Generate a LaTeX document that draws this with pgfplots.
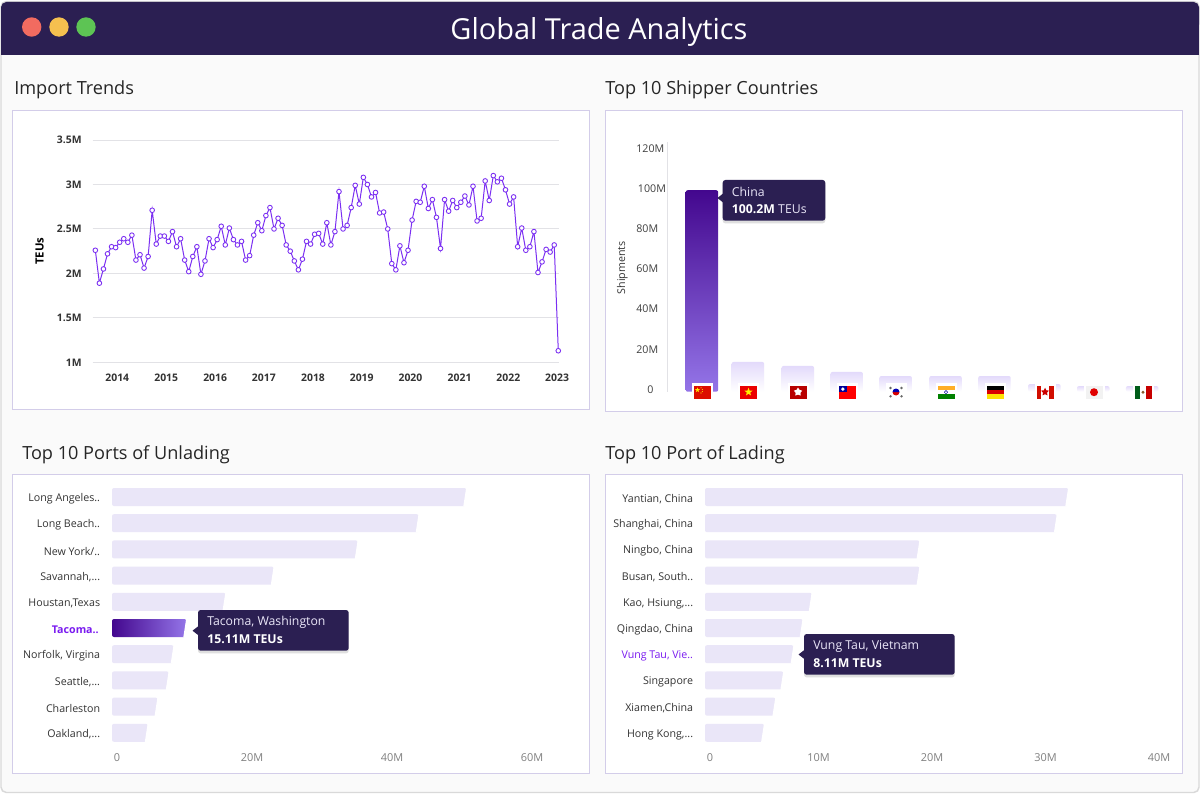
\documentclass[border=0pt]{standalone}
\usepackage{fontspec}
\usepackage{pgfplots}
\pgfplotsset{compat=1.18}
\usetikzlibrary{shadows,shapes.geometric,calc}
\setmainfont{Open Sans}
\definecolor{hdr}{HTML}{2B1F52}
\definecolor{pageb}{HTML}{FAFAFA}
\definecolor{panelb}{HTML}{D3CDE9}
\definecolor{lilac}{HTML}{EAE6F8}
\definecolor{lilactop}{HTML}{E3DAFB}
\definecolor{purp}{HTML}{7B2FF2}
\definecolor{hl}{HTML}{7A1BF0}
\definecolor{deep}{HTML}{43078E}
\definecolor{soft}{HTML}{9475E8}
\definecolor{txt}{HTML}{333333}
\definecolor{gridc}{HTML}{E2E2E6}
\definecolor{cr}{HTML}{F26B60}
\definecolor{cy}{HTML}{F5C04F}
\definecolor{cg}{HTML}{5DC454}
\newcommand{\sz}[1]{\fontsize{#1}{#1}\selectfont}
\newcommand{\ddd}{.{}.{}.}
\pgfplotsset{
  base/.style={scale only axis, clip=false, axis line style={draw=none}, major tick style={draw=none}, minor tick style={draw=none}, major tick length=0pt},
  hbarax/.style={base, xbar, y dir=reverse, ymin=-0.5, ymax=9.5, ytick={0,1,2,3,4,5,6,7,8,9}, height=196.5pt,
    yticklabel style={font=\sz{8}, text=txt, anchor=east}, xticklabel style={font=\sz{8.2}, text=black!50, yshift=-2.5pt}},
  slant/.style={bar width=13.5pt, bar shift=0pt, draw=none, rounded corners=1.5pt, forget plot, #1},
  vbarst/.style={bar width=24.4pt, bar shift=0pt, draw=none, rounded corners=1.5pt, forget plot, top color=lilactop, bottom color=white},
}
\newcommand{\cut}[2]{\fill[white] (axis cs:#1,#2-0.36) -- ([xshift=1.5pt]axis cs:#1,#2-0.36) -- ([xshift=1.5pt]axis cs:#1,#2+0.36) -- ([xshift=-2.2pt]axis cs:#1,#2+0.36) -- cycle;}
\newcommand{\flagat}[2]{\begin{scope}[shift={(#1,392)}]\fill[white](-10.5,-9)rectangle(10.5,7);#2\end{scope}}
\newcommand{\tip}[8]{%
  \fill[hdr,rounded corners=2,drop shadow={opacity=0.25,shadow xshift=0pt,shadow yshift=-2pt}](#1,#2)rectangle(#3,#4);
  \fill[hdr]({#1+1},{#6-5})--(#5,#6)--({#1+1},{#6+5})--cycle;
  \node[anchor=west,inner sep=0pt,text=lilac,font=\sz{9.2}] at ({#1+9},{#2+12}) {#7};
  \node[anchor=west,inner sep=0pt,text=white,font=\sz{9.2}] at ({#1+9},{#2+29.5}) {#8};}
\begin{document}
\begin{tikzpicture}
\path[use as bounding box] (0,0) rectangle (900pt,595.5pt);
\begin{scope}[x=0.75pt,y=-0.75pt,shift={(0,-794)}]
\fill[white](0,0)rectangle(1200,794);
\fill[pageb,draw=black!15,line width=1.1pt,rounded corners=4](1,1.5)rectangle(1199,792.5);
\fill[hdr,rounded corners=4](1,2)rectangle(1199,30);
\fill[hdr](1,20)rectangle(1199,55);
\fill[cr](31.7,27)circle(9.7);
\fill[cy](59,27)circle(9.7);
\fill[cg](86,27)circle(9.7);
\node[text=white,font=\sz{21.7}] at (599,32) {Global Trade Analytics};
\foreach \x/\y/\t in {14/90/Import Trends,605/90/Top 10 Shipper Countries,22/455/Top 10 Ports of Unlading,605/455/Top 10 Port of Lading}
  \node[anchor=west,inner sep=0pt,text=black!85,font=\sz{13.6}] at (\x,\y) {\t};
\foreach \a/\b/\c/\d in {12.5/110.5/589.5/409.5,605.5/110.5/1182.5/411.5,12.5/474.5/589.5/773.5,605.5/474.5/1182.5/773.5}
  \filldraw[fill=white,draw=panelb,line width=0.75pt](\a,\b)rectangle(\c,\d);
\end{scope}

% ---------- Import Trends
\begin{axis}[base, at={(69.525pt,323.775pt)}, anchor=south west, width=349.8pt, height=166.7pt,
  xmin=-0.648, xmax=114.2, ymin=1, ymax=3.5,
  ymajorgrids, grid style={gridc,line width=0.75pt},
  ytick={1,1.5,2,2.5,3,3.5}, yticklabels={1M,1.5M,2M,2.5M,3M,3.5M},
  xtick={5.4,17.45,29.5,41.5,53.6,65.6,77.6,89.7,101.7,113.7},
  xticklabels={2014,2015,2016,2017,2018,2019,2020,2021,2022,2023},
  yticklabel style={font=\sz{7.8}\bfseries, text=txt, xshift=-4.8pt},
  xticklabel style={font=\sz{7.8}\bfseries, text=txt, yshift=-5.2pt},
  ylabel={TEUs},
  every axis y label/.style={at={(axis description cs:-0.1137,0.5)},rotate=90,anchor=center,font=\sz{8.5}\bfseries,text=black}]
\addplot[purp,line width=0.75pt,mark=*,mark size=1.75pt,mark options={fill=white,draw=purp,line width=0.65pt}] table {
0 2.26
1 1.89
2 2.05
3 2.22
4 2.30
5 2.29
6 2.35
7 2.39
8 2.35
9 2.43
10 2.15
11 2.21
12 2.06
13 2.19
14 2.71
15 2.33
16 2.42
17 2.42
18 2.36
19 2.47
20 2.30
21 2.39
22 2.15
23 2.02
24 2.19
25 2.30
26 1.99
27 2.14
28 2.39
29 2.29
30 2.38
31 2.53
32 2.32
33 2.51
34 2.38
35 2.32
36 2.36
37 2.15
38 2.20
39 2.43
40 2.57
41 2.48
42 2.65
43 2.74
44 2.50
45 2.62
46 2.54
47 2.32
48 2.25
49 2.14
50 2.04
51 2.16
52 2.36
53 2.33
54 2.44
55 2.45
56 2.33
57 2.57
58 2.32
59 2.47
60 2.92
61 2.50
62 2.54
63 2.74
64 2.99
65 2.78
66 3.08
67 3.00
68 2.86
69 2.91
70 2.68
71 2.69
72 2.50
73 2.11
74 2.04
75 2.31
76 2.12
77 2.26
78 2.60
79 2.81
80 2.80
81 2.98
82 2.73
83 2.83
84 2.63
85 2.28
86 2.83
87 2.70
88 2.82
89 2.74
90 2.80
91 2.87
92 2.77
93 2.98
94 2.59
95 2.62
96 3.04
97 2.82
98 3.10
99 3.03
100 3.07
101 2.94
102 2.78
103 2.86
104 2.30
105 2.51
106 2.26
107 2.30
108 2.47
109 2.01
110 2.13
111 2.27
112 2.24
113 2.32
114 1.13
};
\end{axis}

% ---------- Top 10 Shipper Countries
\begin{axis}[base, ybar, at={(500.475pt,301.725pt)}, anchor=south west, width=380pt, height=187.3pt,
  xmin=-0.708, xmax=9.65, ymin=0, ymax=124.2,
  axis y line*=left, axis line style={draw=gridc,line width=0.75pt,-},
  axis x line=none,
  ytick={0,20,40,60,80,100,120},
  yticklabels={\hspace*{8.2pt}0,20M,40M,60M,80M,\hspace*{1.2pt}100M,120M},
  yticklabel style={font=\sz{8}, text=black!75, anchor=west, xshift=-23.4pt, yshift=1.6pt, inner sep=0pt},
  ylabel={Shipments},
  every axis y label/.style={at={(axis description cs:-0.0886,0.4966)},rotate=90,anchor=center,font=\sz{8},text=black!80}]
\addplot[vbarst, top color=deep, bottom color=soft] coordinates {(0,100.2)};
\addplot[vbarst] coordinates {(0.94,14.8)};
\addplot[vbarst] coordinates {(1.96,12.8)};
\addplot[vbarst] coordinates {(2.96,9.8)};
\addplot[vbarst] coordinates {(3.96,7.8)};
\addplot[vbarst] coordinates {(4.98,7.8)};
\addplot[vbarst] coordinates {(5.98,7.8)};
\addplot[vbarst] coordinates {(7,3.8)};
\addplot[vbarst] coordinates {(8,2.8)};
\addplot[vbarst] coordinates {(9,2.8)};
\end{axis}

% ---------- Top 10 Ports of Unlading
\begin{axis}[hbarax, at={(84pt,36.075pt)}, anchor=south west, width=336pt,
  xmin=0, xmax=64, xtick={0,20,40,60}, xticklabels={\hspace*{7.5pt}0,20M,40M,60M},
  yticklabels={Long Angeles..,Long Beach..,New York/..,{Savannah,\ddd},{Houstan,Texas},{\color{hl}\bfseries Tacoma..\hspace*{1pt}},{Norfolk, Virgina},{Seattle,\ddd},Charleston,{Oakland,\ddd}},
  yticklabel style={xshift=-5.4pt, yshift=-1.3pt}]
\addplot[slant={fill=lilac}] coordinates {(50.6,0)};
\addplot[slant={fill=lilac}] coordinates {(43.8,1)};
\addplot[slant={fill=lilac}] coordinates {(35.1,2)};
\addplot[slant={fill=lilac}] coordinates {(23.1,3)};
\addplot[slant={fill=lilac}] coordinates {(16.2,4)};
\addplot[slant={left color=deep,right color=soft}] coordinates {(10.6,5)};
\addplot[slant={fill=lilac}] coordinates {(8.8,6)};
\addplot[slant={fill=lilac}] coordinates {(8.1,7)};
\addplot[slant={fill=lilac}] coordinates {(6.5,8)};
\addplot[slant={fill=lilac}] coordinates {(5.1,9)};
\cut{50.6}{0}\cut{43.8}{1}\cut{35.1}{2}\cut{23.1}{3}\cut{16.2}{4}\cut{10.6}{5}\cut{8.8}{6}\cut{8.1}{7}\cut{6.5}{8}\cut{5.1}{9}
\end{axis}

% ---------- Top 10 Port of Lading
\begin{axis}[hbarax, at={(528.75pt,36.075pt)}, anchor=south west, width=357.5pt,
  xmin=0, xmax=42, xtick={0,10,20,30,40}, xticklabels={\hspace*{7.5pt}0,10M,20M,30M,40M},
  yticklabels={{Yantian, China},{Shanghai, China},{Ningbo, China},{Busan, South..},{Kao, Hsiung,\ddd},{Qingdao, China},{\color{hl}Vung Tau, Vie..},Singapore,{Xiamen,China},{Hong Kong,\ddd}},
  yticklabel style={xshift=-5.4pt, yshift=-1.3pt}]
\addplot[slant={fill=lilac}] coordinates {(32.0,0)};
\addplot[slant={fill=lilac}] coordinates {(31.0,1)};
\addplot[slant={fill=lilac}] coordinates {(18.9,2)};
\addplot[slant={fill=lilac}] coordinates {(18.9,3)};
\addplot[slant={fill=lilac}] coordinates {(9.4,4)};
\addplot[slant={fill=lilac}] coordinates {(8.6,5)};
\addplot[slant={fill=lilac}] coordinates {(7.8,6)};
\addplot[slant={fill=lilac}] coordinates {(6.9,7)};
\addplot[slant={fill=lilac}] coordinates {(6.2,8)};
\addplot[slant={fill=lilac}] coordinates {(5.2,9)};
\cut{32.0}{0}\cut{31.0}{1}\cut{18.9}{2}\cut{18.9}{3}\cut{9.4}{4}\cut{8.6}{5}\cut{7.8}{6}\cut{6.9}{7}\cut{6.2}{8}\cut{5.2}{9}
\end{axis}

\begin{scope}[x=0.75pt,y=-0.75pt,shift={(0,-794)}]
% flags
\flagat{702}{\fill[red!85!black!90!orange](-8.5,-6)rectangle(8.5,6.5);\node[star,star points=5,star point ratio=2.4,fill=yellow!90!orange,inner sep=0pt,minimum size=3.8pt] at (-4.5,-2) {};\foreach \p in {(-1,-4.2),(0.3,-2.4),(0.3,-0.4),(-1,1)}\fill[yellow!90!orange]\p circle(0.55);}
\flagat{748.5}{\fill[red!92!black](-8.5,-6)rectangle(8.5,6.5);\node[star,star points=5,star point ratio=2.4,fill=yellow,inner sep=0pt,minimum size=6.4pt] at (0,0) {};}
\flagat{798}{\fill[red!72!black](-8.5,-6)rectangle(8.5,6.5);\node[star,star points=5,star point ratio=1.7,fill=white,inner sep=0pt,minimum size=6.6pt] at (0,0) {};}
\flagat{847}{\fill[red](-8.5,-6)rectangle(8.5,6.5);\fill[blue!60!black](-8.5,-6)rectangle(0,0.3);\fill[white](-4.2,-2.9)circle(1.9);}
\flagat{896}{\fill[white](-8.5,-6)rectangle(8.5,6.5);\fill[red!85!black](-3.5,0)arc(180:0:3.5);\fill[blue!70!black](-3.5,0)arc(180:360:3.5);\foreach \p in {(-5.5,-4),(5.5,-4),(-5.5,4.3),(5.5,4.3)}\fill[black!60]\p circle(1.3);}
\flagat{946}{\fill[orange!75!yellow!85!white](-8.5,-6)rectangle(8.5,-1.8);\fill[white](-8.5,-1.8)rectangle(8.5,2.3);\fill[green!50!black](-8.5,2.3)rectangle(8.5,6.5);\draw[blue!60!black,line width=0.3pt](0,0.2)circle(1.7);}
\flagat{995}{\fill[black](-8.5,-6)rectangle(8.5,-1.8);\fill[red!85!black](-8.5,-1.8)rectangle(8.5,2.3);\fill[yellow!85!orange](-8.5,2.3)rectangle(8.5,6.5);}
\flagat{1045}{\fill[white](-8.5,-6)rectangle(8.5,6.5);\fill[red!80!black!90!orange](-8.5,-6)rectangle(-4.4,6.5);\fill[red!80!black!90!orange](4.4,-6)rectangle(8.5,6.5);\node[star,star points=5,star point ratio=2,fill=red!80!black,inner sep=0pt,minimum size=6.4pt] at (0,0) {};}
\flagat{1094}{\fill[black!5](-8.5,-6)rectangle(8.5,6.5);\fill[red!88!black](0,0.2)circle(4);}
\flagat{1143}{\fill[white](-8.5,-6)rectangle(8.5,6.5);\fill[green!40!black!90!blue](-8.5,-6)rectangle(-2.9,6.5);\fill[red!78!black](2.9,-6)rectangle(8.5,6.5);\fill[brown!70!black](0,0.2)circle(1.6);}
% tooltips
\tip{722.7}{180}{825.3}{220.7}{717.5}{198}{China}{{\bfseries 100.2M}~\textcolor{lilac}{TEUs}}
\tip{198}{610}{348.7}{650.7}{192.5}{630.7}{Tacoma, Washington}{\bfseries 15.11M TEUs}
\tip{804}{634}{954.7}{674.7}{798.5}{654.5}{Vung Tau, Vietnam}{\bfseries 8.11M TEUs}
\end{scope}
\end{tikzpicture}
\end{document}
